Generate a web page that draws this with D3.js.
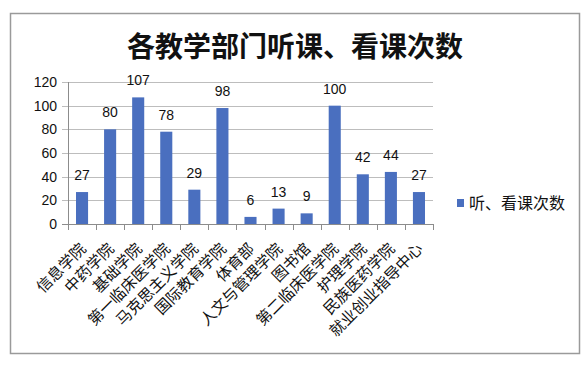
<!DOCTYPE html>
<html lang="zh">
<head>
<meta charset="utf-8" />
<script src="https://d3js.org/d3.v7.min.js"></script>
<style>
  body { margin: 0; background: #fff; }
  svg text { font-family: "Noto Sans CJK SC", "Liberation Sans", sans-serif; fill: #111; }
  .num { font-family: "Liberation Sans", Arial, sans-serif; }
</style>
</head>
<body>
<svg width="588" height="368"></svg>
<script>
// data
var departments = ["信息学院", "中药学院", "基础学院", "第一临床医学院", "马克思主义学院",
  "国际教育学院", "体育部", "人文与管理学院", "图书馆", "第二临床医学院",
  "护理学院", "民族医药学院", "就业创业指导中心"];
var counts = [27, 80, 107, 78, 29, 98, 6, 13, 9, 100, 42, 44, 27];
var yTicks = [0, 20, 40, 60, 80, 100, 120];
var title = "各教学部门听课、看课次数";
var seriesName = "听、看课次数";

var svg = d3.select("svg");
var plotL = 68, plotR = 433, plotT = 82, plotB = 224;

// outer frame
svg.append("rect")
  .attr("x", 10.5).attr("y", 13.5)
  .attr("width", 569).attr("height", 340)
  .attr("fill", "#fff").attr("stroke", "#9a9a9a").attr("stroke-width", 1.5);

svg.append("text")
  .attr("x", 295).attr("y", 57)
  .attr("text-anchor", "middle")
  .style("font-size", "28px").style("font-weight", "bold")
  .text(title);

var x = d3.scaleBand().domain(departments).range([plotL, plotR])
  .paddingInner(0.57).paddingOuter(0.285);
var y = d3.scaleLinear().domain([0, 120]).range([plotB, plotT]);

// gridlines + y ticks
svg.append("g").selectAll("line")
  .data(yTicks).enter().append("line")
  .attr("x1", plotL - 6).attr("x2", plotR)
  .attr("y1", function(d) { return Math.round(y(d)) + 0.5; })
  .attr("y2", function(d) { return Math.round(y(d)) + 0.5; })
  .attr("stroke", function(d) { return d === 0 ? "#8c8c8c" : "#bdbdbd"; });

svg.append("line")
  .attr("x1", plotL + 0.5).attr("x2", plotL + 0.5)
  .attr("y1", plotT).attr("y2", plotB)
  .attr("stroke", "#8c8c8c");

svg.append("g").selectAll("text")
  .data(yTicks).enter().append("text")
  .attr("class", "num")
  .attr("x", plotL - 11)
  .attr("y", function(d) { return y(d); })
  .attr("dy", "0.36em")
  .attr("text-anchor", "end")
  .style("font-size", "14px")
  .text(function(d) { return d; });

// category boundary ticks
svg.append("g").selectAll("line")
  .data(d3.range(departments.length + 1)).enter().append("line")
  .attr("x1", function(i) { return Math.round(plotL + i * x.step()) + 0.5; })
  .attr("x2", function(i) { return Math.round(plotL + i * x.step()) + 0.5; })
  .attr("y1", plotB).attr("y2", plotB + 6)
  .attr("stroke", "#8c8c8c");

// bars
svg.append("g").selectAll("rect")
  .data(counts).enter().append("rect")
  .attr("x", function(d, i) { return x(departments[i]); })
  .attr("y", function(d) { return y(d); })
  .attr("width", x.bandwidth())
  .attr("height", function(d) { return plotB - y(d); })
  .attr("fill", "#4a6fbf");

// value labels
svg.append("g").selectAll("text")
  .data(counts).enter().append("text")
  .attr("class", "num")
  .attr("x", function(d, i) { return x(departments[i]) + x.bandwidth() / 2; })
  .attr("y", function(d) { return y(d) - 12; })
  .attr("text-anchor", "middle")
  .style("font-size", "14px")
  .text(function(d) { return d; });

// rotated category labels
svg.append("g").selectAll("text")
  .data(departments).enter().append("text")
  .attr("transform", function(d) {
    return "translate(" + (x(d) + x.bandwidth() / 2 + 1) + "," + (plotB + 22) + ") rotate(-45)";
  })
  .attr("text-anchor", "end")
  .attr("dy", "0.35em")
  .style("font-size", "15.5px")
  .text(function(d) { return d; });

// legend
svg.append("rect")
  .attr("x", 457).attr("y", 199).attr("width", 7).attr("height", 8)
  .attr("fill", "#4a6fbf");
svg.append("text")
  .attr("x", 469).attr("y", 203)
  .attr("dy", "0.35em")
  .style("font-size", "16px")
  .text(seriesName);
</script>
</body>
</html>
